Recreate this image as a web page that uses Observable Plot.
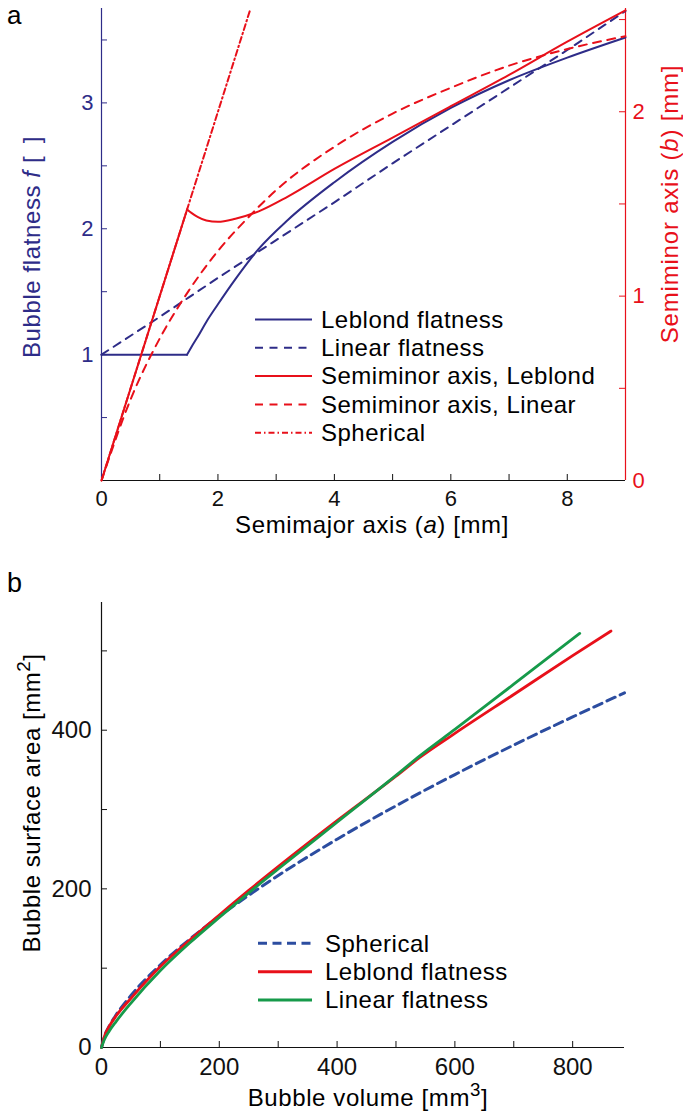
<!DOCTYPE html>
<html><head><meta charset="utf-8">
<script src="https://cdn.jsdelivr.net/npm/d3@7"></script>
<script src="https://cdn.jsdelivr.net/npm/@observablehq/plot@0.6"></script>
<style>
body{margin:0;background:#fff}
#wrap{position:relative;width:683px;height:1116px;overflow:hidden;background:#fff}
#wrap svg{position:absolute;left:0}
</style></head><body><div id="wrap"></div>
<script>
const FONT = "'Liberation Sans', Arial, Helvetica, sans-serif";
const NAVY = "#2e2c88", RED = "#e8101a", BLUE = "#2c4da0", GREEN = "#169a4a", BLACK = "#111";

// ---------- Panel a data ----------
const aMax = 9, fMax = 3.75, bMax = 2.56, aKnee = 1.47;
const xTicksA = [1, 2, 3, 4, 5, 6, 7, 8];
const xLabelsA = [0, 2, 4, 6, 8];
const fTicks = [0.5, 1, 1.5, 2, 2.5, 3, 3.5];
const fLabels = [1, 2, 3];
const bTicks = [0.5, 1, 1.5, 2, 2.5];
const bLabels = [0, 1, 2];

const leblondA = [0, 1.47, 1.55, 1.65, 1.8, 2.0, 2.3, 2.7, 3.2, 4, 5, 6, 7, 8, 9];
const leblondF = [1, 1, 1.065, 1.14, 1.26, 1.40, 1.60, 1.84, 2.07, 2.37, 2.69, 2.96, 3.18, 3.36, 3.52];
const leblondB = [0, 1.47, 1.45, 1.43, 1.41, 1.403, 1.42, 1.46, 1.54, 1.69, 1.86, 2.03, 2.20, 2.38, 2.55];
const linearA = [0, 0.5, 1, 1.5, 2, 2.5, 3, 4, 5, 6, 7, 8, 9];
const linearF = [1, 1.15, 1.30, 1.455, 1.61, 1.76, 1.91, 2.21, 2.52, 2.82, 3.12, 3.42, 3.73];
const linearB = [0, 0.44, 0.77, 1.03, 1.245, 1.42, 1.575, 1.81, 1.99, 2.13, 2.25, 2.34, 2.41];
const sphericalA = [0, 2.56];
const sphericalB = [0, 2.56];
const legendA = ["Leblond flatness", "Linear flatness", "Semiminor axis, Leblond", "Semiminor axis, Linear", "Spherical"];

// ---------- Panel b data ----------
const vMax = 888, sMax = 561;
const vTicks = [100, 200, 300, 400, 500, 600, 700, 800];
const vLabels = [0, 200, 400, 600, 800];
const sTicks = [100, 200, 300, 400, 500];
const sLabels = [0, 200, 400];
const sphV = [0, 5, 13, 25, 50, 100, 150, 200, 250, 300, 400, 500, 600, 700, 800, 888];
const sphS = [0, 14.1, 26.8, 41.4, 65.6, 104.2, 136.6, 165.4, 191.9, 216.8, 262.6, 304.7, 344.1, 381.3, 416.8, 447];
const lebV = [0, 5, 13, 25, 50, 100, 150, 200, 250, 300, 400, 500, 541, 600, 700, 800, 865];
const lebS = [0, 14.1, 26.5, 40, 62, 102, 135.5, 167, 198, 228, 286, 342, 366, 396, 445, 494, 525];
const linV = [0, 5, 13, 25, 50, 100, 150, 200, 250, 300, 400, 500, 541, 600, 700, 812];
const linS = [0, 10, 20.5, 33, 56, 97, 132, 164, 195, 225, 284, 343, 368, 401, 458, 522];
const legendB = ["Spherical", "Leblond flatness", "Linear flatness"];

const zipT = (xs, ys) => xs.map((x, i) => ({x, y: ys[i]}));
const W = 683;

// ---------- Panel a ----------
const kB = fMax / bMax;
const topH = 548, topMT = 8, topMB = 68, topML = 101, topMR = 58;
const topPH = topH - topMT - topMB, topPW = W - topML - topMR;
const lebF = zipT(leblondA, leblondF), lebB = zipT(leblondA, leblondB);
const dash = "8,6.5", dashDot = "6,3,1.5,3";

const svgA = Plot.plot({
  width: W, height: topH, marginLeft: topML, marginRight: topMR, marginTop: topMT, marginBottom: topMB,
  x: {domain: [0, aMax]}, y: {domain: [0, fMax]},
  style: {fontFamily: FONT, fontSize: "22px", background: "transparent", overflow: "visible"},
  marks: [
    Plot.tickX(xTicksA, {x: d => d, insetTop: topPH - 6, stroke: BLACK}),
    Plot.tickY(fTicks, {y: d => d, insetRight: topPW - 6, stroke: NAVY}),
    Plot.tickY(bTicks, {y: d => d * kB, insetLeft: topPW - 6, stroke: RED}),
    Plot.ruleX([0], {stroke: NAVY, strokeWidth: 1.2}),
    Plot.ruleX([aMax], {stroke: RED, strokeWidth: 1.2}),
    Plot.ruleY([0], {stroke: BLACK, strokeWidth: 1.2}),
    Plot.axisX({ticks: xLabelsA, tickSize: 0, tickPadding: 10, tickFormat: d => String(d), label: null, fill: BLACK}),
    Plot.axisY({anchor: "left", ticks: fLabels, tickSize: 0, tickPadding: 8, tickFormat: d => String(d), label: null, color: NAVY}),
    Plot.axisY({anchor: "right", ticks: bLabels.map(b => b * kB), tickSize: 0, tickPadding: 7,
      tickFormat: d => String(Math.round(d / kB)), label: null, color: RED}),
    Plot.line(lebF.filter(d => d.x <= aKnee), {x: "x", y: "y", stroke: NAVY, strokeWidth: 2}),
    Plot.line(lebF.filter(d => d.x >= aKnee), {x: "x", y: "y", stroke: NAVY, strokeWidth: 2, curve: "monotone-x"}),
    Plot.line(zipT(linearA, linearF), {x: "x", y: "y", stroke: NAVY, strokeWidth: 2, strokeDasharray: dash}),
    Plot.line(lebB.filter(d => d.x <= aKnee), {x: "x", y: d => d.y * kB, stroke: RED, strokeWidth: 2}),
    Plot.line(lebB.filter(d => d.x >= aKnee), {x: "x", y: d => d.y * kB, stroke: RED, strokeWidth: 2, curve: "monotone-x"}),
    Plot.line(zipT(linearA, linearB), {x: "x", y: d => d.y * kB, stroke: RED, strokeWidth: 2, strokeDasharray: dash, curve: "monotone-x"}),
    Plot.line(zipT(sphericalA, sphericalB), {x: "x", y: d => d.y * kB, stroke: RED, strokeWidth: 2, strokeDasharray: dashDot, clip: true})
  ]
});
svgA.style.top = "0px";

// ---------- Panel b ----------
const botTop = 560, botH = 556, botMT = 42, botMB = 69, botML = 101, botMR = 59;
const botPH = botH - botMT - botMB, botPW = W - botML - botMR;
const svgB = Plot.plot({
  width: W, height: botH, marginLeft: botML, marginRight: botMR, marginTop: botMT, marginBottom: botMB,
  x: {domain: [0, vMax]}, y: {domain: [0, sMax]},
  style: {fontFamily: FONT, fontSize: "24px", background: "transparent", overflow: "visible"},
  marks: [
    Plot.tickX(vTicks, {x: d => d, insetTop: botPH - 6, stroke: BLACK}),
    Plot.tickY(sTicks, {y: d => d, insetRight: botPW - 6, stroke: BLACK}),
    Plot.ruleX([0], {stroke: BLACK, strokeWidth: 1.2}),
    Plot.ruleY([0], {stroke: BLACK, strokeWidth: 1.2}),
    Plot.axisX({ticks: vLabels, tickSize: 0, tickPadding: 10, tickFormat: d => String(d), label: null, fill: BLACK}),
    Plot.axisY({anchor: "left", ticks: sLabels, tickSize: 0, tickPadding: 10, tickFormat: d => String(d), label: null, fill: BLACK}),
    Plot.line(zipT(sphV, sphS), {x: "x", y: "y", stroke: BLUE, strokeWidth: 3, strokeDasharray: "9,5.5", curve: "monotone-x"}),
    Plot.line(zipT(lebV, lebS), {x: "x", y: "y", stroke: RED, strokeWidth: 2.8, curve: "monotone-x"}),
    Plot.line(zipT(linV, linS), {x: "x", y: "y", stroke: GREEN, strokeWidth: 2.8, curve: "monotone-x"})
  ]
});
svgB.style.top = botTop + "px";

const wrap = document.getElementById("wrap");
wrap.appendChild(svgA);
wrap.appendChild(svgB);

// ---------- text helpers ----------
function addText(svg, {x, y, rotate = 0, anchor = "middle", size = 24, fill = "#000", spacing = 0, parts}) {
  const t = d3.select(svg).append("text")
    .attr("transform", `translate(${x},${y}) rotate(${rotate})`)
    .attr("text-anchor", anchor).attr("font-size", size).attr("fill", fill)
    .attr("font-family", FONT).style("letter-spacing", spacing + "px");
  let raised = false;
  parts.forEach(p => {
    const ts = t.append("tspan").text(p.t);
    if (p.i) ts.attr("font-style", "italic");
    if (p.sup) { ts.attr("font-size", size * 0.78).attr("dy", -10); raised = true; }
    else if (raised) { ts.attr("dy", 10); raised = false; }
  });
  return t;
}
function addLegend(svg, {x1, x2, tx, y0, step, items, width, size = 24}) {
  const g = d3.select(svg).append("g");
  items.forEach((it, i) => {
    const y = y0 + i * step;
    g.append("line").attr("x1", x1).attr("x2", x2).attr("y1", y).attr("y2", y)
      .attr("stroke", it.stroke).attr("stroke-width", width).attr("stroke-dasharray", it.dash || null);
    g.append("text").attr("x", tx).attr("y", y + 8.3).attr("font-size", size).attr("font-family", FONT)
      .attr("text-anchor", "start").style("letter-spacing", "0.5px").attr("fill", "#000").text(it.label);
  });
}

// panel a texts
addText(svgA, {x: 7, y: 24, anchor: "start", size: 26, parts: [{t: "a"}]});
addText(svgA, {x: 372, y: 533, spacing: 0.6, parts: [{t: "Semimajor axis ("}, {t: "a", i: true}, {t: ") [mm]"}]});
addText(svgA, {x: 40, y: 247, rotate: -90, fill: NAVY, spacing: 0.6, parts: [{t: "Bubble flatness "}, {t: "f", i: true}, {t: " [\u2002]"}]});
addText(svgA, {x: 678, y: 204, rotate: -90, fill: RED, spacing: 0.8, parts: [{t: "Semiminor axis ("}, {t: "b", i: true}, {t: ") [mm]"}]});
addLegend(svgA, {x1: 255, x2: 312, tx: 321, y0: 319.5, step: 28.3, width: 2, items: [
  {label: legendA[0], stroke: NAVY},
  {label: legendA[1], stroke: NAVY, dash: dash},
  {label: legendA[2], stroke: RED},
  {label: legendA[3], stroke: RED, dash: dash},
  {label: legendA[4], stroke: RED, dash: dashDot}
]});

// panel b texts (svg coords offset by botTop)
addText(svgB, {x: 7, y: 592 - botTop, anchor: "start", size: 27, parts: [{t: "b"}]});
addText(svgB, {x: 368, y: 1106 - botTop, spacing: 0.6, parts: [{t: "Bubble volume [mm"}, {t: "3", sup: true}, {t: "]"}]});
addText(svgB, {x: 40, y: 803 - botTop, rotate: -90, spacing: 0.55, parts: [{t: "Bubble surface area [mm"}, {t: "2", sup: true}, {t: "]"}]});
addLegend(svgB, {x1: 258, x2: 312, tx: 325, y0: 943.3 - botTop, step: 28.4, width: 3, items: [
  {label: legendB[0], stroke: BLUE, dash: "9,5.5"},
  {label: legendB[1], stroke: RED},
  {label: legendB[2], stroke: GREEN}
]});
</script></body></html>
